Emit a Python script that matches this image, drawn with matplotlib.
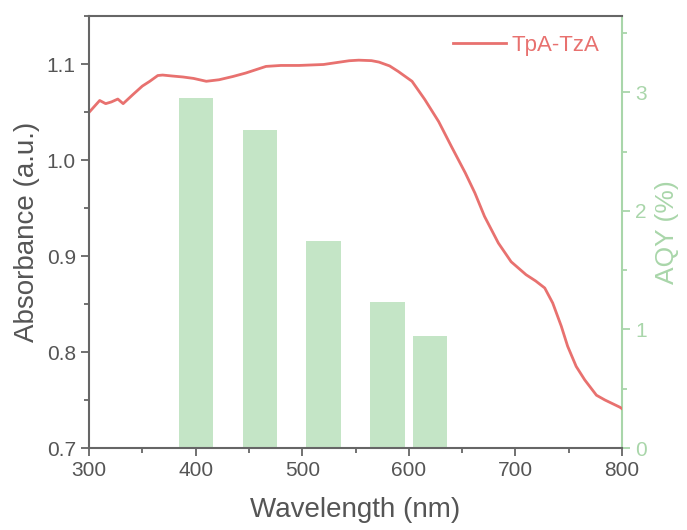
import numpy as np
import matplotlib
matplotlib.use("Agg")
import matplotlib.pyplot as plt
from matplotlib.ticker import MultipleLocator

plt.rcParams['font.family'] = ['Liberation Sans', 'DejaVu Sans']

# absorbance curve
wl = [300, 310, 315.6, 321, 327, 332, 341, 350, 357, 364.5, 369, 378, 388, 398, 410,
      422, 435, 447, 466, 480, 497, 520, 544, 553, 565, 572, 582, 590, 603, 615,
      628, 640, 653, 662, 671, 684, 696, 710, 719, 727.5, 735, 743, 749, 757, 765,
      776, 784, 798, 800]
absorb = [1.0496, 1.062, 1.0587, 1.0605, 1.0635, 1.0587, 1.068, 1.077, 1.082, 1.088,
          1.0885, 1.0875, 1.0865, 1.085, 1.082, 1.0836, 1.087, 1.0906, 1.0975, 1.0985,
          1.0985, 1.0995, 1.1034, 1.104, 1.1035, 1.102, 1.098, 1.0923, 1.082, 1.063,
          1.040, 1.014, 0.9865, 0.9656, 0.9413, 0.9135, 0.894, 0.8805, 0.874, 0.8667,
          0.851, 0.827, 0.806, 0.785, 0.771, 0.755, 0.750, 0.7425, 0.741]

# AQY bars
aqy_wl = [400, 460, 520, 580, 620]
aqy = [2.95, 2.68, 1.75, 1.23, 0.945]

red = '#e8716f'
green_bar = '#c4e5c6'
green_ax = '#a9d6aa'
gray = '#666666'
txt = '#555555'

fig = plt.figure(figsize=(6.87, 5.30), dpi=100)
ax = fig.add_axes([0.1296, 0.1547, 0.7758, 0.8151])
ax2 = ax.twinx()

ax2.bar(aqy_wl, aqy, width=32, color=green_bar, zorder=1)
ax2.set_ylim(0, 3.645)
ax2.yaxis.set_major_locator(MultipleLocator(1))
ax2.yaxis.set_minor_locator(MultipleLocator(0.5))
ax2.tick_params(axis='y', which='both', direction='out', colors=green_ax,
                labelcolor=green_ax, labelsize=15, width=1.3)
ax2.tick_params(axis='y', which='major', length=6)
ax2.tick_params(axis='y', which='minor', length=3.5)
ax2.set_ylabel('AQY (%)', color=green_ax, fontsize=19, labelpad=6)

ax.set_zorder(ax2.get_zorder() + 1)
ax.patch.set_visible(False)
ax.plot(wl, absorb, color=red, lw=2, label='TpA-TzA')
ax.set_xlim(300, 800)
ax.set_ylim(0.7, 1.15)
ax.xaxis.set_major_locator(MultipleLocator(100))
ax.xaxis.set_minor_locator(MultipleLocator(50))
ax.yaxis.set_major_locator(MultipleLocator(0.1))
ax.yaxis.set_minor_locator(MultipleLocator(0.05))
ax.tick_params(which='both', direction='out', colors=gray, labelcolor=txt,
               labelsize=15, width=1.3)
ax.tick_params(which='major', length=6)
ax.tick_params(which='minor', length=3.5)
ax.set_xlabel('Wavelength (nm)', color=txt, fontsize=20, labelpad=12)
ax.set_ylabel('Absorbance (a.u.)', color=txt, fontsize=20, labelpad=4.5)

for s in ['left', 'bottom', 'top']:
    ax.spines[s].set_color(gray)
    ax.spines[s].set_linewidth(1.5)
ax.spines['right'].set_visible(False)
for s in ['left', 'bottom', 'top']:
    ax2.spines[s].set_visible(False)
ax2.spines['right'].set_color(green_ax)
ax2.spines['right'].set_linewidth(1.5)

leg = ax.legend(loc='upper right', bbox_to_anchor=(0.995, 1.003), frameon=False,
                fontsize=16, handlelength=2.4, handletextpad=0.25)
for t in leg.get_texts():
    t.set_color(red)

fig.savefig('out.png', dpi=100)
